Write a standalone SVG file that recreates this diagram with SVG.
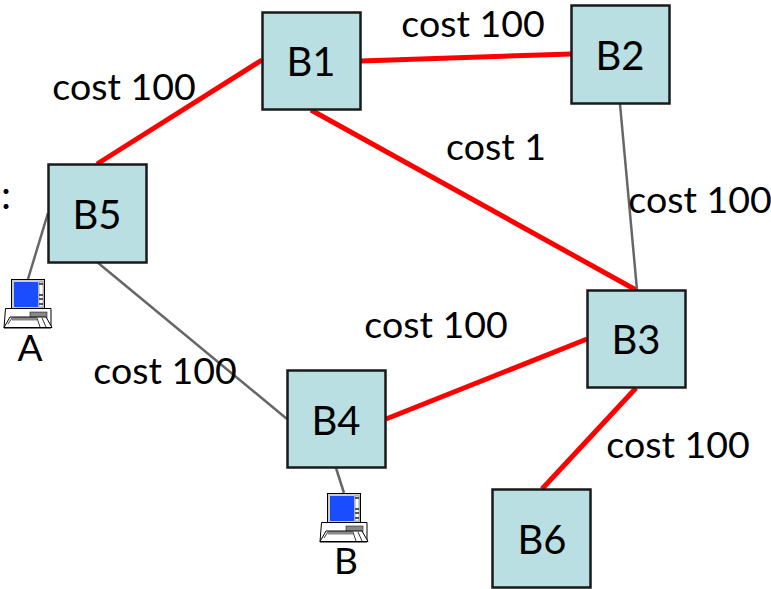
<svg xmlns="http://www.w3.org/2000/svg" width="771" height="589" viewBox="0 0 771 589">
<style>
text{font-family:Lato,"Liberation Sans",sans-serif;fill:#000}
.l{font-size:37.500px;text-anchor:middle}
.n{font-size:40px;text-anchor:middle}
.box{fill:#b9dfe3;stroke:#1a1a1a;stroke-width:2.500}
.r{stroke:#f00;stroke-width:5;fill:none}
.g{stroke:#666;stroke-width:2.500;fill:none}
</style>
<defs>
<g id="pc">
<rect x="11.500" y="279.500" width="33" height="29" fill="#ccc" stroke="#000" stroke-width="1"/>
<rect x="14" y="282" width="24" height="25" fill="#1a4dff"/>
<rect x="39" y="282" width="4" height="25" fill="#fff" stroke="#555" stroke-width="0.500"/>
<path d="M39 284h4M39 295h4M39 299h4M39 304h4" stroke="#222" stroke-width="1.500"/>
<path d="M5.500 308.500H51V328H4z" fill="#fff" stroke="#000" stroke-width="1"/>
<rect x="30" y="312" width="17" height="6" fill="#888" stroke="#000" stroke-width="0.500"/>
<path d="M4 327.500 10 317H46L52 327.500z" fill="#fff" stroke="#000" stroke-width="1"/>
<path d="M8 324 12 318H37L40 327M42 318 46 327" fill="none" stroke="#000" stroke-width="0.800"/>
<rect x="12" y="318" width="25" height="2.500" fill="#888"/>
</g>
</defs>
<g id="connectors">
<path class="r" d="M262 60 97 164"/>
<path class="r" d="M361 61 571 54"/>
<path class="r" d="M311 110 636 290"/>
<path class="r" d="M386 419 587 339"/>
<path class="r" d="M636 388 542 489"/>
<path class="g" d="M620 104 637 290"/>
<path class="g" d="M97 262 287 419"/>
<path class="g" d="M48 213 28 279"/>
<path class="g" d="M336 468 344 493"/>
</g>
<g id="B1"><rect class="box" x="262.500" y="12.500" width="98" height="97"/><text class="n" x="311" y="76">B1</text></g>
<g id="B2"><rect class="box" x="571.500" y="5.500" width="98" height="98"/><text class="n" x="620" y="70">B2</text></g>
<g id="B3"><rect class="box" x="587.500" y="290.500" width="98" height="97"/><text class="n" x="636" y="354">B3</text></g>
<g id="B4"><rect class="box" x="287.500" y="370.500" width="98" height="97"/><text class="n" x="336" y="435">B4</text></g>
<g id="B5"><rect class="box" x="48.500" y="164.500" width="98" height="98"/><text class="n" x="97" y="229">B5</text></g>
<g id="B6"><rect class="box" x="492.500" y="489.500" width="98" height="98"/><text class="n" x="542" y="554">B6</text></g>
<g id="A"><use href="#pc"/><text class="n" x="30" y="361" style="font-size:37px">A</text></g>
<g id="B"><use href="#pc" transform="translate(316 214)"/><text class="n" x="346" y="574" style="font-size:37px">B</text></g>
<g id="labels">
<text class="l" x="124" y="100">cost 100</text>
<text class="l" x="473" y="37">cost 100</text>
<text class="l" x="496" y="160">cost 1</text>
<text class="l" x="700" y="213">cost 100</text>
<text class="l" x="436" y="338">cost 100</text>
<text class="l" x="165" y="384">cost 100</text>
<text class="l" x="678" y="458">cost 100</text>
<text x="1" y="209" style="font-size:40px">:</text>
</g>
</svg>
